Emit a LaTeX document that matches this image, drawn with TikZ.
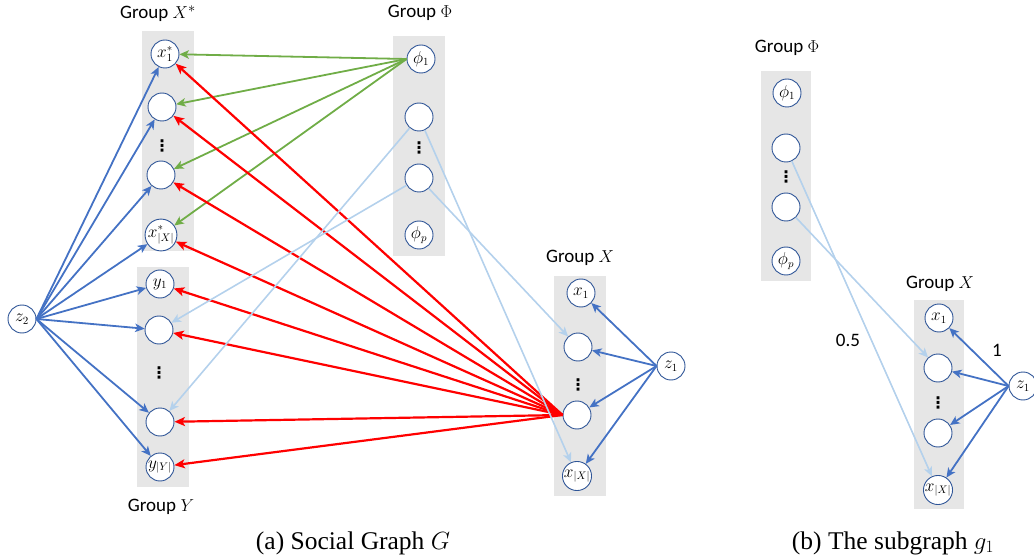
\documentclass[tikz,border=0pt]{standalone}
\usepackage{fontspec}
\setmainfont{Carlito}
\newfontfamily\capfont{Liberation Serif}
\newfontfamily\dotfont{DejaVu Sans}
\usetikzlibrary{arrows.meta}
\definecolor{eblue}{HTML}{4472C4}
\definecolor{egreen}{HTML}{70AD47}
\definecolor{ered}{HTML}{FF0000}
\definecolor{elight}{HTML}{B4D1EC}
\definecolor{nborder}{HTML}{2F5597}
\definecolor{boxgray}{HTML}{E6E6E6}
\begin{document}
\begin{tikzpicture}[x=1pt,y=-1pt,
  nd/.style={circle,draw=nborder,line width=0.9pt,fill=white,minimum size=28pt,inner sep=0pt,font=\fontsize{16}{16}\selectfont},
  grp/.style={fill=boxgray,draw=none,inner sep=0pt},
  glabel/.style={anchor=base,inner sep=0pt,font=\fontsize{19}{19}\selectfont},
  dotsn/.style={inner sep=0pt,font=\dotfont\bfseries\fontsize{16}{16}\selectfont},
  arr/.style={-{Stealth[length=9.5pt,width=8.5pt,inset=2.5pt]}},
  bl/.style={arr,draw=eblue,line width=1.8pt},
  gr/.style={arr,draw=egreen,line width=1.8pt},
  rd/.style={-{Stealth[length=10.5pt,width=9pt,inset=2.5pt]},draw=ered,line width=2.2pt},
  lb/.style={arr,draw=elight,line width=1.6pt},
  captext/.style={anchor=base,inner sep=0pt,font=\capfont\fontsize{25.5}{25.5}\selectfont},
  wlabel/.style={inner sep=0pt,font=\fontsize{19}{19}\selectfont}
]
\useasboundingbox (0,0) rectangle (1034,556);

% ---------- panel (a) boxes ----------
\node[grp,minimum width=52pt,minimum height=220pt] (bxs) at (168,141) {};
\node[grp,minimum width=52pt,minimum height=220pt] (by) at (163,377) {};
\node[grp,minimum width=52pt,minimum height=220pt] (bphi) at (419,146) {};
\node[grp,minimum width=52pt,minimum height=220pt] (bx) at (580,386) {};

\node[glabel] (lxs) at (158,19) {Group $X^*$};
\node[glabel] (lphi) at (420,18) {Group $\Phi$};
\node[glabel] (lx) at (580,263) {Group $X$};
\node[glabel] (ly) at (161,511) {Group $Y$};

% dots
\node[dotsn] (dxs) at (162,146) {⋮};
\node[dotsn] (dy) at (159,373) {⋮};
\node[dotsn] (dphi) at (419,148) {⋮};
\node[dotsn] (dx) at (578,385) {⋮};

% nodes (a)
\node[nd] (xs1) at (165,54) {$x^*_1$};
\node[nd] (xs2) at (162,107) {};
\node[nd] (xs3) at (161,175) {};
\node[nd] (xs4) at (161,235) {$x^*_{|X|}$};
\node[nd] (y1) at (160,284) {$y_1$};
\node[nd] (y2) at (159,330) {};
\node[nd] (y3) at (160,422) {};
\node[nd] (y4) at (160,467) {$y_{|Y|}$};
\node[nd] (z2) at (22,319) {$z_2$};
\node[nd] (p1) at (421,59) {$\phi_1$};
\node[nd] (p2) at (419,117) {};
\node[nd] (p3) at (419,178) {};
\node[nd] (pp) at (419,235) {$\phi_p$};
\node[nd] (x1) at (581,293) {$x_1$};
\node[nd] (x2) at (578,347) {};
\node[nd] (x3) at (577,415) {};
\node[nd] (x4) at (577,476) {$x_{|X|}$};
\node[nd] (z1) at (671,366) {$z_1$};

% edges (a)
\foreach \t in {xs1,xs2,xs3,xs4,y1,y2,y3,y4}
  \draw[bl] (z2.east) -- (\t);
\foreach \t in {xs1,xs2,xs3,xs4}
  \draw[gr] (p1.west) -- (\t);
\foreach \t in {xs1,xs2,xs3,xs4,y1,y2,y3,y4}
  \draw[rd] (x3.west) -- (\t);
\draw[lb] (p2) -- (y3);
\draw[lb] (p3) -- (y2);
\draw[lb] (p2) -- (x4);
\draw[lb] (p3) -- (x2);
\foreach \t in {x1,x2,x3,x4}
  \draw[bl] (z1.west) -- (\t);

\node[captext] (capa) at (353,549) {(a) Social Graph $G$};

% ---------- panel (b) ----------
\node[grp,minimum width=50pt,minimum height=210pt] (bphib) at (786,176) {};
\node[grp,minimum width=50pt,minimum height=209pt] (bxb) at (939,404.5) {};
\node[glabel] (lphib) at (787,53) {Group $\Phi$};
\node[glabel] (lxb) at (940,288) {Group $X$};
\node[dotsn] (dphib) at (786,177) {⋮};
\node[dotsn] (dxb) at (938,403) {⋮};

\node[nd] (bp1) at (787,93) {$\phi_1$};
\node[nd] (bp2) at (786,148) {};
\node[nd] (bp3) at (786,207) {};
\node[nd] (bpp) at (786,261) {$\phi_p$};
\node[nd] (bx1) at (939,318) {$x_1$};
\node[nd] (bx2) at (938,368) {};
\node[nd] (bx3) at (938,433) {};
\node[nd] (bx4) at (938,490) {$x_{|X|}$};
\node[nd] (bz1) at (1023,386) {$z_1$};

\draw[lb] (bp2) -- (bx4);
\draw[lb] (bp3) -- (bx2);
\foreach \t in {bx1,bx2,bx3,bx4}
  \draw[bl] (bz1.west) -- (\t);

\node[wlabel] (w05) at (848,340) {0.5};
\node[wlabel] (w1) at (997,350) {1};

\node[captext] (capb) at (893,549) {(b) The subgraph $g_1$};
\end{tikzpicture}
\end{document}
